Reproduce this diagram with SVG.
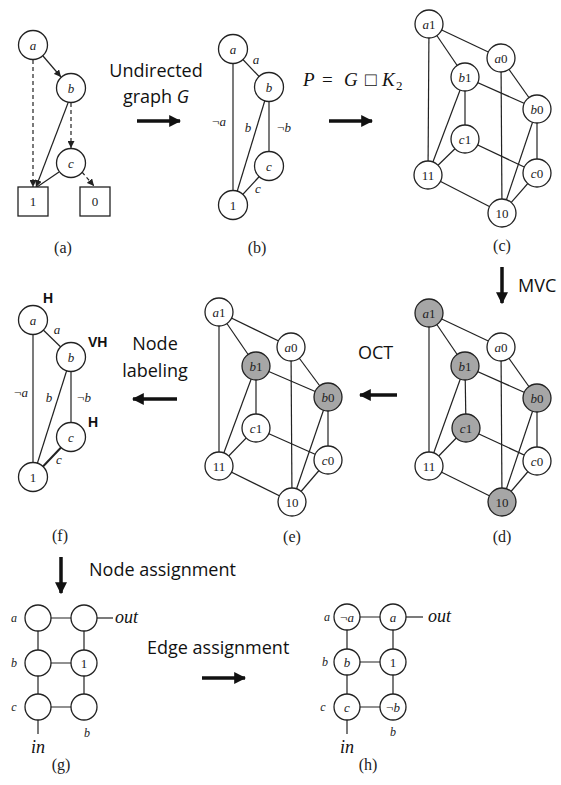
<svg xmlns="http://www.w3.org/2000/svg" width="561" height="785" viewBox="0 0 561 785">
<style>
.e{stroke:#222;stroke-width:1.2;fill:none}
.d{stroke:#222;stroke-width:1.2;fill:none;stroke-dasharray:4 3}
.n{fill:#fff;stroke:#222;stroke-width:1.3}
.g{fill:#a6a6a6;stroke:#222;stroke-width:1.3}
.t{font-family:"Liberation Serif",serif;font-size:13px;text-anchor:middle;fill:#222}
.i{font-style:italic}
.cap{font-family:"Liberation Serif",serif;font-size:16px;text-anchor:middle;fill:#222}
.s{font-family:"Open Sans","Liberation Sans",sans-serif;font-size:18px;fill:#111}
.h{font-family:"Liberation Sans",sans-serif;font-size:14px;font-weight:bold;fill:#111}
.m{font-family:"Liberation Serif",serif;font-style:italic;font-size:18px;fill:#111}
.r{font-family:"Liberation Serif","DejaVu Serif",serif;font-size:19px;fill:#111}
.big{stroke:#111;stroke-width:3.5;fill:none}
</style>
<defs>
<marker id="ah" viewBox="0 0 10 10" refX="10" refY="5" markerWidth="7" markerHeight="7" markerUnits="userSpaceOnUse" orient="auto"><path d="M0,0 L10,5 L0,10 z" fill="#222" stroke="none"/></marker>
<marker id="bh" viewBox="0 0 10 10" refX="9" refY="5" markerWidth="12" markerHeight="12" markerUnits="userSpaceOnUse" orient="auto"><path d="M0,0 L10,5 L0,10 z" fill="#111" stroke="none"/></marker>
</defs>

<!-- connectors -->
<g id="connectors">
<!-- (a) -->
<line class="e" x1="43" y1="56" x2="61" y2="77" marker-end="url(#ah)"/>
<line class="d" x1="33" y1="60" x2="33" y2="187" marker-end="url(#ah)"/>
<line class="e" x1="68" y1="103" x2="36" y2="187" marker-end="url(#ah)"/>
<line class="e" x1="59" y1="172" x2="37" y2="187"/>
<line class="d" x1="71" y1="103" x2="71" y2="148" marker-end="url(#ah)"/>
<line class="d" x1="82" y1="172" x2="94" y2="186" marker-end="url(#ah)"/>
<!-- (b) -->
<line class="e" x1="233" y1="49" x2="269" y2="87"/>
<line class="e" x1="233" y1="49" x2="233" y2="205"/>
<line class="e" x1="269" y1="87" x2="233" y2="205"/>
<line class="e" x1="269" y1="87" x2="269" y2="166"/>
<line class="e" x1="269" y1="166" x2="233" y2="205"/>
<!-- (c) -->
<g class="e">
<line x1="429" y1="24" x2="501" y2="58"/><line x1="429" y1="24" x2="465" y2="77"/><line x1="429" y1="24" x2="428" y2="175"/>
<line x1="501" y1="58" x2="537" y2="109"/><line x1="501" y1="58" x2="502" y2="213"/>
<line x1="465" y1="77" x2="537" y2="109"/><line x1="465" y1="77" x2="465" y2="139"/><line x1="465" y1="77" x2="428" y2="175"/>
<line x1="537" y1="109" x2="537" y2="173"/><line x1="537" y1="109" x2="502" y2="213"/>
<line x1="465" y1="139" x2="537" y2="173"/><line x1="465" y1="139" x2="428" y2="175"/>
<line x1="537" y1="173" x2="502" y2="213"/><line x1="428" y1="175" x2="502" y2="213"/>
</g>
<!-- (d) -->
<g class="e">
<line x1="429" y1="313" x2="501" y2="347"/><line x1="429" y1="313" x2="465" y2="366"/><line x1="429" y1="313" x2="429" y2="466"/>
<line x1="501" y1="347" x2="537" y2="398"/><line x1="501" y1="347" x2="502" y2="502"/>
<line x1="465" y1="366" x2="537" y2="398"/><line x1="465" y1="366" x2="466" y2="428"/><line x1="465" y1="366" x2="429" y2="466"/>
<line x1="537" y1="398" x2="537" y2="461"/><line x1="537" y1="398" x2="502" y2="502"/>
<line x1="466" y1="428" x2="537" y2="461"/><line x1="466" y1="428" x2="429" y2="466"/>
<line x1="537" y1="461" x2="502" y2="502"/><line x1="429" y1="466" x2="502" y2="502"/>
</g>
<!-- (e) -->
<g class="e">
<line x1="219" y1="312" x2="291" y2="347"/><line x1="219" y1="312" x2="256" y2="366"/><line x1="219" y1="312" x2="219" y2="466"/>
<line x1="291" y1="347" x2="328" y2="397"/><line x1="291" y1="347" x2="292" y2="502"/>
<line x1="256" y1="366" x2="328" y2="397"/><line x1="256" y1="366" x2="256" y2="428"/><line x1="256" y1="366" x2="219" y2="466"/>
<line x1="328" y1="397" x2="328" y2="460"/><line x1="328" y1="397" x2="292" y2="502"/>
<line x1="256" y1="428" x2="328" y2="460"/><line x1="256" y1="428" x2="219" y2="466"/>
<line x1="328" y1="460" x2="292" y2="502"/><line x1="219" y1="466" x2="292" y2="502"/>
</g>
<!-- (f) -->
<line class="e" x1="33" y1="320" x2="71" y2="357"/>
<line class="e" x1="33" y1="320" x2="33" y2="477"/>
<line class="e" x1="71" y1="357" x2="33" y2="477"/>
<line class="e" x1="71" y1="357" x2="71" y2="437"/>
<line class="e" x1="71" y1="437" x2="33" y2="477" style="stroke-width:2"/>
<!-- (g) -->
<g class="e">
<line x1="38" y1="618" x2="84" y2="618"/><line x1="38" y1="663" x2="84" y2="663"/><line x1="38" y1="707" x2="84" y2="707"/>
<line x1="38" y1="618" x2="38" y2="707"/><line x1="84" y1="618" x2="84" y2="707"/>
<line x1="97" y1="618" x2="113" y2="618"/><line x1="38" y1="720" x2="38" y2="734"/>
</g>
<!-- (h) -->
<g class="e">
<line x1="347" y1="617" x2="393" y2="617"/><line x1="347" y1="662" x2="393" y2="662"/><line x1="347" y1="707" x2="393" y2="707"/>
<line x1="347" y1="617" x2="347" y2="707"/><line x1="393" y1="617" x2="393" y2="707"/>
<line x1="406" y1="617" x2="423" y2="617"/><line x1="347" y1="720" x2="347" y2="734"/>
</g>
<!-- big transform arrows -->
<line class="big" x1="137" y1="121" x2="180" y2="121" marker-end="url(#bh)"/>
<line class="big" x1="329" y1="121" x2="372" y2="121" marker-end="url(#bh)"/>
<line class="big" x1="502" y1="267" x2="502" y2="303" marker-end="url(#bh)"/>
<line class="big" x1="397" y1="395" x2="360" y2="395" marker-end="url(#bh)"/>
<line class="big" x1="177" y1="399" x2="133" y2="399" marker-end="url(#bh)"/>
<line class="big" x1="61" y1="557" x2="61" y2="593" marker-end="url(#bh)"/>
<line class="big" x1="202" y1="678" x2="245" y2="678" marker-end="url(#bh)"/>
</g>

<!-- (a) nodes -->
<g id="a-a"><circle class="n" cx="33" cy="45" r="14.5"/><text class="t i" x="33" y="49.5">a</text></g>
<g id="a-b"><circle class="n" cx="71" cy="88" r="14.5"/><text class="t i" x="71" y="92.5">b</text></g>
<g id="a-c"><circle class="n" cx="71" cy="163" r="14.5"/><text class="t i" x="71" y="167.5">c</text></g>
<g id="a-1"><rect class="n" x="18" y="187" width="30" height="29"/><text class="t" x="33" y="206">1</text></g>
<g id="a-0"><rect class="n" x="80" y="187" width="30" height="29"/><text class="t" x="95" y="206">0</text></g>
<text class="cap" x="63" y="253">(a)</text>

<!-- (b) nodes -->
<g id="b-a"><circle class="n" cx="233" cy="49" r="14.5"/><text class="t i" x="233" y="53.5">a</text></g>
<g id="b-b"><circle class="n" cx="269" cy="87" r="14.5"/><text class="t i" x="269" y="91.5">b</text></g>
<g id="b-c"><circle class="n" cx="269" cy="166" r="14.5"/><text class="t i" x="269" y="170.5">c</text></g>
<g id="b-1"><circle class="n" cx="233" cy="205" r="14.5"/><text class="t" x="233" y="209.5">1</text></g>
<g id="b-labels">
<text class="t i" x="256" y="64">a</text>
<text class="t" x="219" y="126">¬<tspan class="i">a</tspan></text>
<text class="t i" x="248" y="132">b</text>
<text class="t" x="284" y="132">¬<tspan class="i">b</tspan></text>
<text class="t i" x="258" y="193">c</text>
</g>
<text class="cap" x="257" y="253">(b)</text>

<!-- (c) nodes -->
<g id="c-a1"><circle class="n" cx="429" cy="24" r="14"/><text class="t" x="429" y="28.5"><tspan class="i">a</tspan>1</text></g>
<g id="c-a0"><circle class="n" cx="501" cy="58" r="14"/><text class="t" x="501" y="62.5"><tspan class="i">a</tspan>0</text></g>
<g id="c-b1"><circle class="n" cx="465" cy="77" r="14"/><text class="t" x="465" y="81.5"><tspan class="i">b</tspan>1</text></g>
<g id="c-b0"><circle class="n" cx="537" cy="109" r="14"/><text class="t" x="537" y="113.5"><tspan class="i">b</tspan>0</text></g>
<g id="c-c1"><circle class="n" cx="465" cy="139" r="14"/><text class="t" x="465" y="143.5"><tspan class="i">c</tspan>1</text></g>
<g id="c-c0"><circle class="n" cx="537" cy="173" r="14"/><text class="t" x="537" y="177.5"><tspan class="i">c</tspan>0</text></g>
<g id="c-11"><circle class="n" cx="428" cy="175" r="14"/><text class="t" x="428" y="179.5">11</text></g>
<g id="c-10"><circle class="n" cx="502" cy="213" r="14"/><text class="t" x="502" y="217.5">10</text></g>
<text class="cap" x="502" y="251">(c)</text>

<!-- (d) nodes -->
<g id="d-a1"><circle class="g" cx="429" cy="313" r="14"/><text class="t" x="429" y="317.5"><tspan class="i">a</tspan>1</text></g>
<g id="d-a0"><circle class="n" cx="501" cy="347" r="14"/><text class="t" x="501" y="351.5"><tspan class="i">a</tspan>0</text></g>
<g id="d-b1"><circle class="g" cx="465" cy="366" r="14"/><text class="t" x="465" y="370.5"><tspan class="i">b</tspan>1</text></g>
<g id="d-b0"><circle class="g" cx="537" cy="398" r="14"/><text class="t" x="537" y="402.5"><tspan class="i">b</tspan>0</text></g>
<g id="d-c1"><circle class="g" cx="466" cy="428" r="14"/><text class="t" x="466" y="432.5"><tspan class="i">c</tspan>1</text></g>
<g id="d-c0"><circle class="n" cx="537" cy="461" r="14"/><text class="t" x="537" y="465.5"><tspan class="i">c</tspan>0</text></g>
<g id="d-11"><circle class="n" cx="429" cy="466" r="14"/><text class="t" x="429" y="470.5">11</text></g>
<g id="d-10"><circle class="g" cx="502" cy="502" r="14"/><text class="t" x="502" y="506.5">10</text></g>
<text class="cap" x="502" y="542">(d)</text>

<!-- (e) nodes -->
<g id="e-a1"><circle class="n" cx="219" cy="312" r="14"/><text class="t" x="219" y="316.5"><tspan class="i">a</tspan>1</text></g>
<g id="e-a0"><circle class="n" cx="291" cy="347" r="14"/><text class="t" x="291" y="351.5"><tspan class="i">a</tspan>0</text></g>
<g id="e-b1"><circle class="g" cx="256" cy="366" r="14"/><text class="t" x="256" y="370.5"><tspan class="i">b</tspan>1</text></g>
<g id="e-b0"><circle class="g" cx="328" cy="397" r="14"/><text class="t" x="328" y="401.5"><tspan class="i">b</tspan>0</text></g>
<g id="e-c1"><circle class="n" cx="256" cy="428" r="14"/><text class="t" x="256" y="432.5"><tspan class="i">c</tspan>1</text></g>
<g id="e-c0"><circle class="n" cx="328" cy="460" r="14"/><text class="t" x="328" y="464.5"><tspan class="i">c</tspan>0</text></g>
<g id="e-11"><circle class="n" cx="219" cy="466" r="14"/><text class="t" x="219" y="470.5">11</text></g>
<g id="e-10"><circle class="n" cx="292" cy="502" r="14"/><text class="t" x="292" y="506.5">10</text></g>
<text class="cap" x="292" y="542">(e)</text>

<!-- (f) nodes -->
<g id="f-a"><circle class="n" cx="33" cy="320" r="14.5"/><text class="t i" x="33" y="324.5">a</text></g>
<g id="f-b"><circle class="n" cx="71" cy="357" r="14.5"/><text class="t i" x="71" y="361.5">b</text></g>
<g id="f-c"><circle class="n" cx="71" cy="437" r="14.5"/><text class="t i" x="71" y="441.5">c</text></g>
<g id="f-1"><circle class="n" cx="33" cy="477" r="14.5"/><text class="t" x="33" y="481.5">1</text></g>
<g id="f-labels">
<text class="h" x="43" y="303">H</text>
<text class="h" x="88" y="347">VH</text>
<text class="h" x="88" y="427">H</text>
<text class="t i" x="57" y="334">a</text>
<text class="t" x="21" y="397">¬<tspan class="i">a</tspan></text>
<text class="t i" x="49" y="402">b</text>
<text class="t" x="84" y="402">¬<tspan class="i">b</tspan></text>
<text class="t i" x="59" y="464">c</text>
</g>
<text class="cap" x="60" y="541">(f)</text>

<!-- (g) nodes -->
<g id="g-11"><circle class="n" cx="38" cy="618" r="13"/></g>
<g id="g-12"><circle class="n" cx="84" cy="618" r="13"/></g>
<g id="g-21"><circle class="n" cx="38" cy="663" r="13"/></g>
<g id="g-22"><circle class="n" cx="84" cy="663" r="13"/><text class="t" x="84" y="667.5">1</text></g>
<g id="g-31"><circle class="n" cx="38" cy="707" r="13"/></g>
<g id="g-32"><circle class="n" cx="84" cy="707" r="13"/></g>
<g id="g-labels">
<text class="t i" x="14" y="622" style="font-size:12px">a</text>
<text class="t i" x="14" y="667" style="font-size:12px">b</text>
<text class="t i" x="14" y="711" style="font-size:12px">c</text>
<text class="t i" x="87" y="737" style="font-size:12px">b</text>
<text class="m" x="115" y="623">out</text>
<text class="m" x="38" y="753" text-anchor="middle">in</text>
</g>
<text class="cap" x="61" y="770">(g)</text>

<!-- (h) nodes -->
<g id="h-11"><circle class="n" cx="347" cy="617" r="13"/><text class="t" x="347" y="621.5">¬<tspan class="i">a</tspan></text></g>
<g id="h-12"><circle class="n" cx="393" cy="617" r="13"/><text class="t i" x="393" y="621.5">a</text></g>
<g id="h-21"><circle class="n" cx="347" cy="662" r="13"/><text class="t i" x="347" y="666.5">b</text></g>
<g id="h-22"><circle class="n" cx="393" cy="662" r="13"/><text class="t" x="393" y="666.5">1</text></g>
<g id="h-31"><circle class="n" cx="347" cy="707" r="13"/><text class="t i" x="347" y="711.5">c</text></g>
<g id="h-32"><circle class="n" cx="393" cy="707" r="13"/><text class="t" x="393" y="711.5">¬<tspan class="i">b</tspan></text></g>
<g id="h-labels">
<text class="t i" x="327" y="621" style="font-size:12px">a</text>
<text class="t i" x="325" y="666" style="font-size:12px">b</text>
<text class="t i" x="323" y="711" style="font-size:12px">c</text>
<text class="t i" x="393" y="736" style="font-size:12px">b</text>
<text class="m" x="428" y="622">out</text>
<text class="m" x="347" y="753" text-anchor="middle">in</text>
</g>
<text class="cap" x="368" y="770">(h)</text>

<!-- transform labels -->
<g id="labels">
<text class="s" x="156" y="77" text-anchor="middle">Undirected</text>
<text class="s" x="156" y="103" text-anchor="middle">graph <tspan font-style="italic">G</tspan></text>
<text class="r" y="86"><tspan x="303" font-style="italic">P</tspan><tspan x="322">=</tspan><tspan x="344" font-style="italic">G</tspan><tspan x="365">□</tspan><tspan x="382" font-style="italic">K</tspan><tspan x="396" dy="4" font-size="13">2</tspan></text>
<text class="s" x="518" y="292">MVC</text>
<text class="s" x="358" y="359">OCT</text>
<text class="s" x="155" y="350" text-anchor="middle">Node</text>
<text class="s" x="155" y="377" text-anchor="middle">labeling</text>
<text class="s" x="89" y="576">Node assignment</text>
<text class="s" x="147" y="654">Edge assignment</text>
</g>
</svg>
